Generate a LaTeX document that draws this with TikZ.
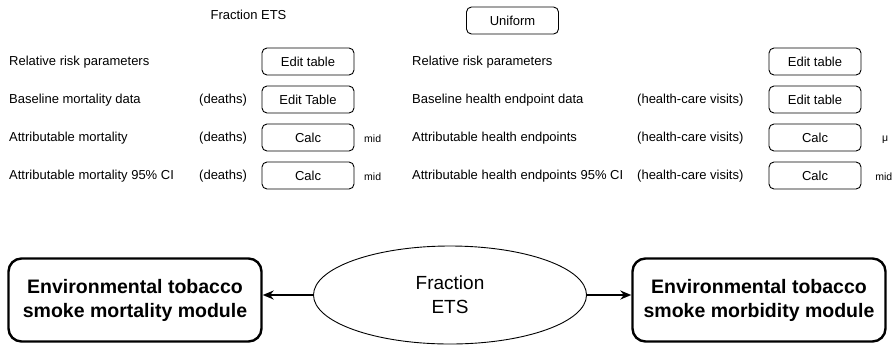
\documentclass[tikz,border=0pt]{standalone}
\usepackage{fontspec}
\setmainfont{Liberation Sans}
\usetikzlibrary{shapes.geometric,arrows.meta}
\begin{document}
\begin{tikzpicture}[x=1pt,y=-1pt,
  lbl/.style={anchor=west,inner sep=0pt,font=\fontsize{13}{15}\selectfont},
  small/.style={anchor=west,inner sep=0pt,font=\fontsize{10.5}{12}\selectfont},
  btn/.style={draw,rounded corners=5pt,line width=0.9pt,minimum width=92pt,minimum height=27pt,inner sep=0pt,font=\fontsize{13}{15}\selectfont},
  module/.style={draw,rounded corners=13pt,line width=2.4pt,minimum width=253pt,minimum height=83pt,inner sep=0pt,align=center,font=\fontsize{19.5}{24}\selectfont\bfseries},
  conn/.style={line width=1.8pt,-{Stealth[length=11pt,width=9pt]}}
]
\useasboundingbox (0,0) rectangle (893,346);
% top
\node[inner sep=0pt,font=\fontsize{13}{15}\selectfont] (fe) at (248.5,15) {Fraction ETS};
\node[btn] (uni) at (512.5,20.5) {Uniform};
% left column
\node[lbl] (l1) at (9,62) {Relative risk parameters};
\node[btn] (lb1) at (308,61.5) {Edit table};
\node[lbl] (l2) at (9,100) {Baseline mortality data};
\node[lbl] (ld2) at (199,100) {(deaths)};
\node[btn] (lb2) at (308,99.5) {Edit Table};
\node[lbl] (l3) at (9,138) {Attributable mortality};
\node[lbl] (ld3) at (199,138) {(deaths)};
\node[btn] (lb3) at (308,137.5) {Calc};
\node[small] (lm3) at (364,139) {mid};
\node[lbl] (l4) at (9,176) {Attributable mortality 95\% CI};
\node[lbl] (ld4) at (199,176) {(deaths)};
\node[btn] (lb4) at (308,175.5) {Calc};
\node[small] (lm4) at (364,177) {mid};
% right column
\node[lbl] (r1) at (412,62) {Relative risk parameters};
\node[btn] (rb1) at (815,61.5) {Edit table};
\node[lbl] (r2) at (412,100) {Baseline health endpoint data};
\node[lbl] (rd2) at (637,100) {(health-care visits)};
\node[btn] (rb2) at (815,99.5) {Edit table};
\node[lbl] (r3) at (412,138) {Attributable health endpoints};
\node[lbl] (rd3) at (637,138) {(health-care visits)};
\node[btn] (rb3) at (815,137.5) {Calc};
\node[small] (rm3) at (882,140) {μ};
\node[small,anchor=east] (rm4) at (892.5,177) {mid};
\node[lbl] (r4) at (412,176) {Attributable health endpoints 95\% CI};
\node[lbl] (rd4) at (637,176) {(health-care visits)};
\node[btn] (rb4) at (815,175.5) {Calc};
% bottom
\node[module] (mort) at (135,300) {Environmental tobacco\\smoke mortality module};
\node[module] (morb) at (759,300) {Environmental tobacco\\smoke morbidity module};
\node[draw,ellipse,line width=0.9pt,minimum width=273pt,minimum height=98pt,inner sep=0pt,align=center,font=\fontsize{19}{24}\selectfont] (ets) at (450,295) {Fraction\\ETS};
\draw[conn] (ets.west) -- (ets.west -| mort.east);
\draw[conn] (ets.east) -- (ets.east -| morb.west);
\end{tikzpicture}
\end{document}
